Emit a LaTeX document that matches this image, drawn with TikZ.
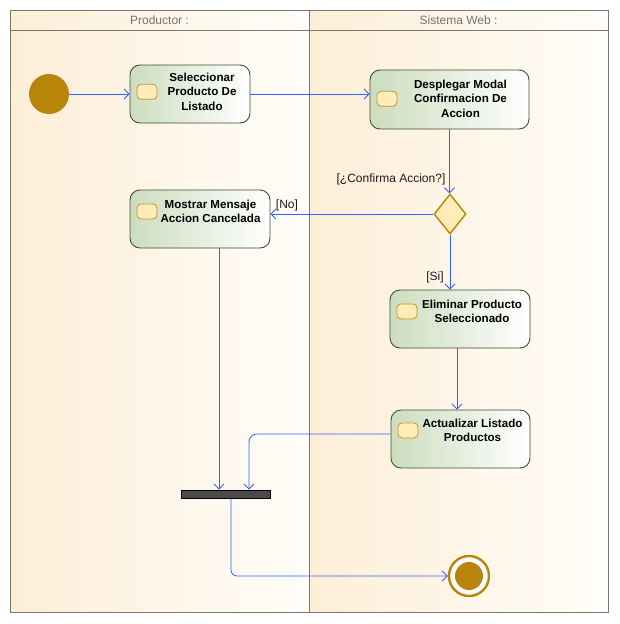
\documentclass[tikz,border=0pt]{standalone}
\usepackage{fontspec}
\setmainfont{Liberation Sans}
\usetikzlibrary{arrows.meta,positioning,shapes.geometric}

\definecolor{lanetint}{RGB}{253,238,215}
\definecolor{lanewhite}{RGB}{255,253,249}
\definecolor{framegray}{RGB}{122,120,110}
\definecolor{actgreen}{RGB}{204,221,190}
\definecolor{actborder}{RGB}{62,80,46}
\definecolor{iconfill}{RGB}{255,236,184}
\definecolor{iconborder}{RGB}{198,148,38}
\definecolor{gold}{RGB}{185,132,10}
\definecolor{flowblue}{RGB}{50,100,245}
\definecolor{barfill}{RGB}{74,74,74}
\definecolor{guardtext}{RGB}{40,22,22}

\tikzset{
  lane/.style={draw=framegray, line width=1pt, left color=lanetint, right color=lanewhite},
  lanehead/.style={text=black!55, font=\fontsize{12}{14}\selectfont},
  action/.style={draw=actborder, line width=0.9pt, rounded corners=10pt,
    left color=actgreen, right color=white, inner sep=0pt, minimum height=58pt},
  acttext/.style={font=\bfseries\fontsize{11.6}{14.8}\selectfont, align=center, inner sep=0pt, anchor=north},
  icon/.style={draw=iconborder, fill=iconfill, line width=0.8pt, rounded corners=4pt,
    minimum width=20pt, minimum height=15pt, inner sep=0pt, anchor=west},
  decision/.style={diamond, draw=gold, fill=iconfill, line width=1.4pt, inner sep=0pt,
    minimum width=32pt, minimum height=40pt},
  joinbar/.style={draw=black, fill=barfill, line width=1pt, minimum width=89pt, minimum height=8pt, inner sep=0pt},
  guard/.style={text=guardtext, font=\fontsize{12}{14}\selectfont, inner sep=0pt},
  flow/.style={draw=flowblue, line width=0.8pt, -{Straight Barb[length=5pt,width=10pt]}}
}

\begin{document}
\begin{tikzpicture}[x=1pt,y=-1pt]
\useasboundingbox (0,0) rectangle (620,624);

% swimlanes
\draw[lane] (10,10) rectangle (309,612);
\draw[lane] (309,10) rectangle (608,612);
\draw[framegray, line width=1pt] (10,30) -- (608,30);
\node[lanehead] at (159.5,20) {Productor :};
\node[lanehead] at (458.5,20) {Sistema Web :};

% start / end
\node[circle, fill=gold, minimum size=40pt, inner sep=0pt] (init) at (49,94) {};
\node[circle, draw=gold, line width=2.4pt, fill=white, minimum size=40pt, inner sep=0pt,
  path picture={\fill[gold] (path picture bounding box.center) circle (14pt);}] (fin) at (469,576) {};

% actions
\node[action, minimum width=120pt] (sel) at (190,94) {};
\node[acttext] (sel-t) at ([xshift=12pt,yshift=-8pt]sel.north) {Seleccionar\\Producto De\\Listado};
\node[icon] at ([xshift=7pt]sel.west |- sel-t.center) {};

\node[action, minimum width=159pt, minimum height=59pt] (desp) at (449.5,99.5) {};
\node[acttext] (desp-t) at ([xshift=11pt,yshift=-10pt]desp.north) {Desplegar Modal\\Confirmacion De\\Accion};
\node[icon] at ([xshift=7pt]desp.west |- desp-t.center) {};

\node[action, minimum width=140pt] (most) at (200,219) {};
\node[acttext] (most-t) at ([xshift=10.5pt,yshift=-10pt]most.north) {Mostrar Mensaje\\Accion Cancelada};
\node[icon] at ([xshift=7pt]most.west |- most-t.center) {};

\node[action, minimum width=140pt] (elim) at (460,319) {};
\node[acttext] (elim-t) at ([xshift=12pt,yshift=-10pt]elim.north) {Eliminar Producto\\Seleccionado};
\node[icon] at ([xshift=7pt]elim.west |- elim-t.center) {};

\node[action, minimum width=139pt] (act) at (460.5,439) {};
\node[acttext] (act-t) at ([xshift=12pt,yshift=-9pt]act.north) {Actualizar Listado\\Productos};
\node[icon] at ([xshift=7pt]act.west |- act-t.center) {};

% decision and join
\node[decision] (dec) at (450,214) {};
\node[joinbar] (join) at (226,494) {};

% guards
\node[guard] at (391,179) {[¿Confirma Accion?]};
\node[guard] at (287,205) {[No]};
\node[guard] at (435,277) {[Si]};

% flows
\draw[flow] (init) -- (sel);
\draw[flow] (sel.east) -- (sel.east -| desp.west);
\draw[flow] (desp.south) -- (desp.south |- dec.north);
\draw[flow] (dec.west) -- (dec.west -| most.east);
\draw[flow] (dec.south) -- (dec.south |- elim.north);
\draw[flow] ([xshift=-3pt]elim.south) -- ([xshift=-3pt]elim.south |- act.north);
\draw[flow] ([xshift=19pt]most.south) -- ([xshift=19pt]most.south |- join.north);
\draw[flow, rounded corners=8pt] ([yshift=5pt]act.west) -| ([xshift=23pt]join.north);
\draw[flow, rounded corners=6pt] ([xshift=5pt]join.south) |- (fin);

\end{tikzpicture}
\end{document}
